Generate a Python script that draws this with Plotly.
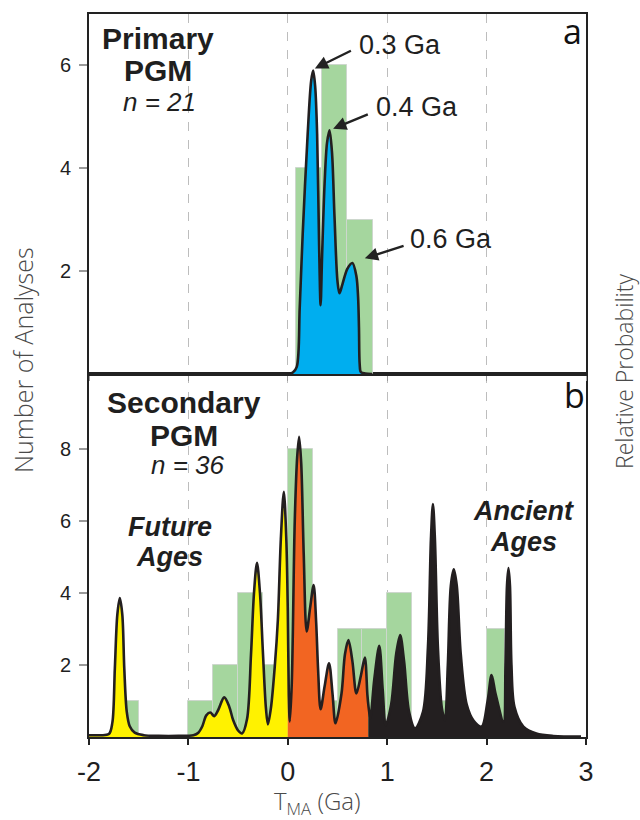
import plotly.graph_objects as go

# ---- histogram data (Number of Analyses) ----
primary_bin_left = [0.08, 0.34, 0.60]
primary_bin_right = [0.34, 0.60, 0.86]
primary_counts = [4, 6, 3]

secondary_bin_left = [-1.75, -1.00, -0.75, -0.50, -0.25, 0.00, 0.25, 0.50, 0.75, 1.00, 1.50, 2.00]
secondary_bin_right = [-1.50, -0.75, -0.50, -0.25, 0.00, 0.25, 0.50, 0.75, 1.00, 1.25, 1.75, 2.19]
secondary_counts = [1, 1, 2, 4, 2, 8, 1, 3, 3, 4, 1, 3]

# ---- relative probability curves (T_MA in Ga, probability on count scale) ----
primary_age = [0.00, 0.05, 0.09, 0.12, 0.15, 0.20, 0.235, 0.255, 0.275, 0.295, 0.315, 0.33,
               0.345, 0.37, 0.395, 0.42, 0.445, 0.47, 0.50, 0.52, 0.55, 0.60, 0.65, 0.69,
               0.707, 0.716, 0.723, 0.735, 0.78, 0.85]
primary_prob = [0.00, 0.03, 0.14, 1.30, 2.73, 4.67, 5.70, 5.90, 5.60, 4.67, 2.50, 1.34,
                2.30, 3.70, 4.50, 4.74, 4.30, 3.05, 1.80, 1.57, 1.75, 2.05, 2.16, 1.90,
                1.50, 0.90, 0.20, 0.04, 0.01, 0.00]

secondary_age = [-2.00, -1.90, -1.80, -1.765, -1.74, -1.715, -1.69, -1.665, -1.645, -1.62, -1.59,
                 -1.54, -1.45, -1.30, -1.10, -0.95, -0.90, -0.86, -0.82, -0.78, -0.74, -0.70,
                 -0.64, -0.59, -0.55, -0.50, -0.46, -0.41, -0.37, -0.34, -0.31, -0.28, -0.25,
                 -0.22, -0.20, -0.17, -0.13, -0.10, -0.07, -0.04, -0.015, 0.00, 0.01, 0.02,
                 0.04, 0.07, 0.095, 0.114, 0.135, 0.16, 0.19, 0.225, 0.26, 0.285, 0.305, 0.33,
                 0.37, 0.415, 0.45, 0.48, 0.54, 0.575, 0.61, 0.65, 0.69, 0.735, 0.775, 0.80,
                 0.81, 0.83, 0.87, 0.92, 0.955, 0.985, 1.04, 1.09, 1.13, 1.17, 1.22, 1.28,
                 1.36, 1.41, 1.44, 1.46, 1.48, 1.51, 1.55, 1.58, 1.61, 1.64, 1.67, 1.70, 1.74,
                 1.80, 1.87, 1.95, 2.01, 2.05, 2.09, 2.17, 2.19, 2.205, 2.22, 2.235, 2.25, 2.28,
                 2.37, 2.50, 2.67, 2.95]
secondary_prob = [0.05, 0.05, 0.08, 0.40, 1.90, 3.40, 3.86, 3.40, 1.90, 0.70, 0.30,
                  0.12, 0.05, 0.03, 0.03, 0.05, 0.12, 0.30, 0.60, 0.68, 0.58, 0.75,
                  1.10, 0.85, 0.47, 0.18, 0.10, 0.50, 2.30, 4.00, 4.84, 4.00, 2.33,
                  0.80, 0.35, 0.80, 2.00, 3.25, 5.50, 6.81, 5.50, 3.50, 1.20, 0.43,
                  1.50, 6.00, 7.80, 8.34, 7.60, 5.10, 2.93, 3.60, 4.22, 3.20, 1.86, 0.77,
                  1.40, 2.05, 1.20, 0.38, 1.20, 2.30, 2.69, 2.10, 1.21, 1.70, 2.21, 1.20,
                  0.90, 0.52, 1.60, 2.53, 1.30, 0.33, 0.90, 2.30, 2.83, 2.10, 0.70, 0.24,
                  0.70, 2.50, 5.50, 6.47, 5.50, 2.50, 0.80, 0.47, 2.00, 4.20, 4.66, 4.20, 2.30,
                  0.90, 0.45, 0.29, 1.00, 1.72, 1.20, 0.43, 2.00, 4.20, 4.69, 4.20, 2.00, 0.84,
                  0.29, 0.10, 0.03, 0.01]

# colour groups along the age axis
future_end = 0.00
young_end = 0.81

BAR_GREEN = "rgb(165,214,158)"
BAR_EDGE = "rgb(205,215,205)"
OUTLINE = "#231f20"
INK = "#1f1f1f"

# plot-area box in page pixels, used to place the free-standing titles
AREA_L, AREA_R, AREA_T, AREA_B = 89, 586, 14, 737

fig = go.Figure()


def add_bars(lefts, rights, counts, xa, ya):
    centers = [(a + b) / 2 for a, b in zip(lefts, rights)]
    widths = [b - a for a, b in zip(lefts, rights)]
    fig.add_trace(go.Bar(x=centers, y=counts, width=widths, xaxis=xa, yaxis=ya,
                         marker=dict(color=BAR_GREEN, line=dict(color=BAR_EDGE, width=1)),
                         showlegend=False, hoverinfo="skip"))


def segment(xs, ys, lo, hi):
    pts = [(x, y) for x, y in zip(xs, ys) if lo <= x <= hi]
    return [p[0] for p in pts], [p[1] for p in pts]


def add_fill(xs, ys, color, xa, ya):
    fig.add_trace(go.Scatter(x=xs, y=ys, xaxis=xa, yaxis=ya, mode="lines",
                             line=dict(width=0, shape="spline", smoothing=0.9, color=color),
                             fill="tozeroy", fillcolor=color,
                             showlegend=False, hoverinfo="skip"))


def add_outline(xs, ys, xa, ya):
    fig.add_trace(go.Scatter(x=xs, y=ys, xaxis=xa, yaxis=ya, mode="lines",
                             line=dict(width=2.6, shape="spline", smoothing=0.9, color=OUTLINE),
                             showlegend=False, hoverinfo="skip"))


# panel a (top): primary PGM
add_bars(primary_bin_left, primary_bin_right, primary_counts, "x2", "y2")
add_fill(primary_age, primary_prob, "#00aeef", "x2", "y2")
add_outline(primary_age, primary_prob, "x2", "y2")

# panel b (bottom): secondary PGM
add_bars(secondary_bin_left, secondary_bin_right, secondary_counts, "x", "y")
fx, fy = segment(secondary_age, secondary_prob, -10, future_end)
add_fill(fx, fy, "#fff200", "x", "y")
yx, yy = segment(secondary_age, secondary_prob, future_end, young_end)
add_fill(yx, yy, "#f26522", "x", "y")
ax_, ay_ = segment(secondary_age, secondary_prob, young_end, 10)
add_fill(ax_, ay_, OUTLINE, "x", "y")
add_outline(secondary_age, secondary_prob, "x", "y")

# ---- layout ----
frame = dict(showline=True, linecolor="#222", linewidth=2, mirror=True, zeroline=False)
tickfont = dict(family="Liberation Sans, Arial, sans-serif", size=27, color=INK)

fig.update_layout(
    width=640, height=820,
    margin=dict(l=AREA_L, r=640 - AREA_R, t=AREA_T, b=820 - AREA_B),
    paper_bgcolor="white", plot_bgcolor="white",
    barmode="overlay", bargap=0,
    xaxis=dict(domain=[0, 1], range=[-2, 3], tickvals=[-2, -1, 0, 1, 2, 3],
               ticktext=["-2", "-1", "0", "1", "2", "3"],
               ticks="outside", ticklen=6, tickwidth=2, tickcolor="#222",
               tickfont=tickfont, ticklabelstandoff=4,
               showgrid=True, gridcolor="#bdbdbd", gridwidth=1, griddash="dash",
               anchor="y", **frame),
    xaxis2=dict(domain=[0, 1], range=[-2, 3], matches="x", tickvals=[-2, -1, 0, 1, 2, 3],
                showticklabels=False, ticks="outside", ticklen=5, tickcolor="#999",
                showgrid=True, gridcolor="#bdbdbd", gridwidth=1, griddash="dash",
                anchor="y2", **frame),
    yaxis=dict(domain=[0, 0.502], range=[0, 10.08], tickvals=[2, 4, 6, 8],
               ticks="outside", ticklen=8, tickwidth=1.5, tickcolor="#9a9a9a",
               tickfont=dict(family="Liberation Sans, Arial, sans-serif", size=20, color=INK),
               ticklabelstandoff=4, showgrid=False, anchor="x", **frame),
    yaxis2=dict(domain=[0.502, 1], range=[0, 7], tickvals=[2, 4, 6],
                ticks="outside", ticklen=8, tickwidth=1.5, tickcolor="#9a9a9a",
                tickfont=dict(family="Liberation Sans, Arial, sans-serif", size=20, color=INK),
                ticklabelstandoff=4, showgrid=False, anchor="x2", **frame),
)

ann = []
bold = dict(family="Liberation Sans, Arial, sans-serif", size=30, color=INK, weight="bold")
ital = dict(family="Liberation Sans, Arial, sans-serif", size=26, color=INK, style="italic")
bital = dict(family="Liberation Sans, Arial, sans-serif", size=27, color=INK,
             weight="bold", style="italic")
plain = dict(family="Liberation Sans, Arial, sans-serif", size=27, color=INK)
letter = dict(family="Open Sans, sans-serif", size=34, color="#111")
light_left = dict(family="Open Sans, sans-serif", size=25, color="#4a4a4a", weight=300)
light_right = dict(family="Open Sans, sans-serif", size=23, color="#4a4a4a", weight=300)
light_x = dict(family="Open Sans, sans-serif", size=24, color="#4a4a4a", weight=300)


def text(x, y, s, font, xref="x", yref="y", **kw):
    ann.append(dict(x=x, y=y, xref=xref, yref=yref, text=s, font=font,
                    showarrow=False, xanchor="center", yanchor="middle", **kw))


def page_text(px, py, s, font, **kw):
    # position given in page pixels, converted to plot-area (paper) fractions
    x = (px - AREA_L) / (AREA_R - AREA_L)
    y = (AREA_B - py) / (AREA_B - AREA_T)
    text(x, y, s, font, "paper", "paper", **kw)


# panel a labels
text(-1.31, 6.52, "Primary", bold, "x2", "y2")
text(-1.31, 5.90, "PGM", bold, "x2", "y2")
text(-1.29, 5.28, "n = 21", ital, "x2", "y2")
text(2.86, 6.66, "a", letter, "x2", "y2")
text(1.13, 6.39, "0.3 Ga", plain, "x2", "y2")
text(1.30, 5.20, "0.4 Ga", plain, "x2", "y2")
text(1.64, 2.62, "0.6 Ga", plain, "x2", "y2")

# arrows from the age labels to their peaks
for tip, tail in [((0.272, 5.94), (0.65, 6.30)),
                  ((0.456, 4.77), (0.82, 5.06)),
                  ((0.775, 2.25), (1.18, 2.50))]:
    ann.append(dict(x=tip[0], y=tip[1], xref="x2", yref="y2", ax=tail[0], ay=tail[1],
                    axref="x2", ayref="y2", text="", showarrow=True, arrowhead=2,
                    arrowsize=1.1, arrowwidth=2.4, arrowcolor="#222"))

# panel b labels
text(-1.04, 9.30, "Secondary", bold)
text(-1.04, 8.36, "PGM", bold)
text(-1.00, 7.56, "n = 36", ital)
text(-1.19, 5.83, "Future", bital)
text(-1.19, 5.00, "Ages", bital)
text(2.37, 6.28, "Ancient", bital)
text(2.37, 5.42, "Ages", bital)
text(2.88, 9.50, "b", letter)

# axis titles
page_text(23, 360, "Number of Analyses", light_left, textangle=-90)
page_text(624, 371, "Relative Probability", light_right, textangle=-90)
page_text(317, 802, "T<sub>MA</sub> (Ga)", light_x)

fig.update_layout(annotations=ann)
fig.write_html("out.html")
